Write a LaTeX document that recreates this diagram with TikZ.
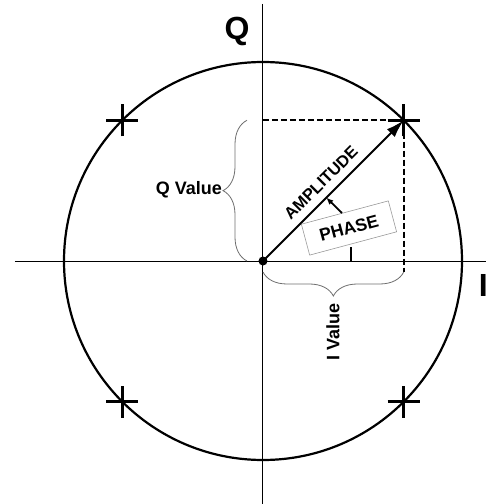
\documentclass[tikz,border=0pt]{standalone}
\usepackage{fontspec}
\setmainfont{Liberation Sans}
\usetikzlibrary{arrows.meta,positioning,calc,decorations.pathreplacing}
\definecolor{cInk}{HTML}{000000}
\definecolor{cGrey}{HTML}{6E6E6E}
\tikzset{
  >=Latex,
  axis/.style  ={line width=1pt,cInk},
  ring/.style  ={line width=2.2pt,cInk},
  plus/.style  ={line width=2.6pt,cInk},
  guide/.style ={line width=1.6pt,dash pattern=on 6pt off 3pt},
  brc/.style   ={decorate,decoration={brace,amplitude=24pt},cGrey,line width=0.8pt},
  vec/.style   ={line width=2pt,-{Latex[length=18pt,width=11pt]}},
  dot/.style   ={circle,fill=cInk,inner sep=0pt,minimum size=9pt},
  lbl/.style   ={font=\fontsize{18}{20}\selectfont\bfseries,inner sep=0pt},
  ax/.style    ={font=\fontsize{32}{34}\selectfont\bfseries,inner sep=0pt},
  tag/.style   ={font=\fontsize{16.5}{19}\selectfont\bfseries,inner sep=0pt},
  phbox/.style ={draw=cGrey!70,line width=0.6pt,minimum width=90pt,minimum height=32pt,
                 font=\fontsize{17.5}{20}\selectfont\bfseries},
}
\begin{document}
\begin{tikzpicture}[x=1pt,y=1pt]
\useasboundingbox (-263,-243) rectangle (225,261);
\coordinate (xl) at (-248,0);
\coordinate (xr) at (223,0);
\coordinate (yt) at (0,257);
\coordinate (yb) at (0,-243);
\coordinate (p) at (45:199);
\draw[axis] (xl) -- (xr);
\draw[axis] (yt) -- (yb);
\draw[ring] (0,0) circle[radius=199];
\foreach \a in {45,135,225,315}
  \draw[plus] ($(\a:199)+(-16,0)$) -- ++(32,0) ($(\a:199)+(0,-16)$) -- ++(0,32);

% projections
\coordinate (qp) at (0,0 |- p);
\coordinate (ip) at ($(p |- 0,0)+(0,-11)$);
\draw[guide] (qp) -- (p) -- (ip);

\node[dot] (o) at (0,0) {};
\draw[vec] (o.center) -- (p);

% braces
\coordinate (qb0) at (-16,0);
\coordinate (qb1) at ($(qp)+(-16,0)$);
\draw[brc] (qb0) -- (qb1);
\coordinate (ib0) at (0,-11);
\draw[brc] (ip) -- (ib0);

\node[lbl,anchor=east] (qval) at (-41,71) {Q Value};
\node[lbl,rotate=90] (ival) at (70,-71) {I Value};
\node[ax] (qlab) at (-26,230) {Q};
\node[ax,anchor=north east] (ilab) at (225,-13) {I};

\node[tag,rotate=45] (amp) at (58,78) {AMPLITUDE};
\node[phbox,rotate=15] (phase) at (86,33) {PHASE};
\coordinate (pa) at ($(o.center)!0.45!(p)$);
\draw[line width=1.8pt,-{Latex[length=7pt,width=6pt]}] (phase.100) -- (pa);
\coordinate (t0) at (88,0);
\draw[line width=2pt] (t0) -- ++(0,14);
\end{tikzpicture}
\end{document}
